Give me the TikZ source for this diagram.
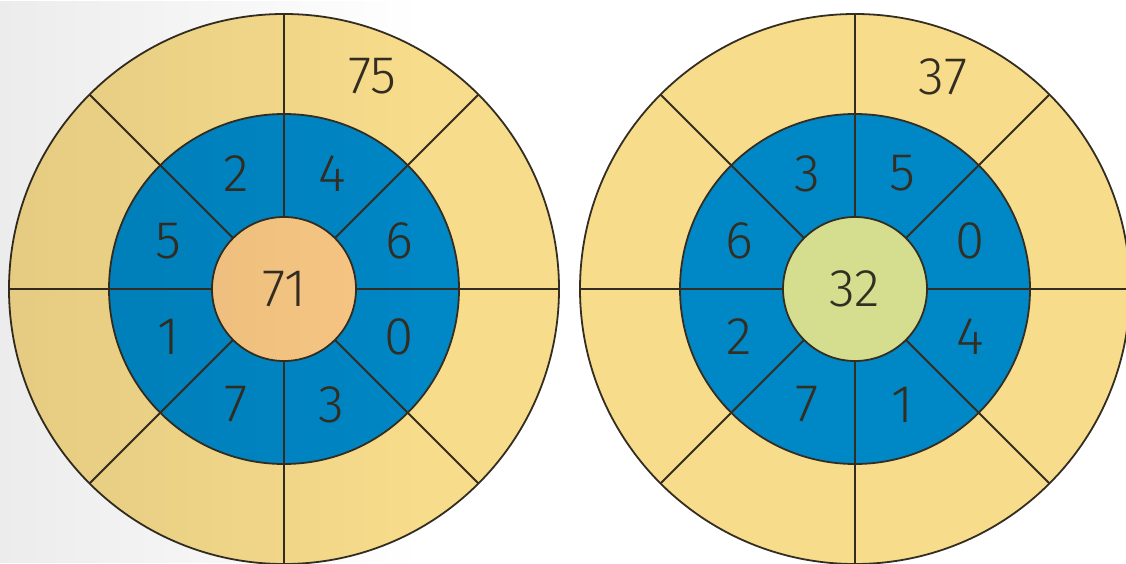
\documentclass[tikz,border=0pt]{standalone}
\usepackage{fontspec}
\setmainfont{Fira Sans Light}
\usetikzlibrary{fadings}
\definecolor{ring}{HTML}{F7DC8C}
\definecolor{blu}{HTML}{0087C5}
\definecolor{org}{HTML}{F8C784}
\definecolor{grn}{HTML}{D4DE8E}
\definecolor{edge}{HTML}{342E22}
\tikzfading[name=fadeR, left color=transparent!0, right color=transparent!100]
\begin{document}
\begin{tikzpicture}[x=1pt,y=1pt,
  disc/.style={circle, draw=edge, line width=1.8pt, inner sep=0pt, outer sep=0pt},
  spoke/.style={draw=edge, line width=1.8pt},
  num/.style={font=\fontsize{53}{53}\selectfont, text=edge, inner sep=0pt}]
\useasboundingbox (0,0) rectangle (1126,563);
\clip (0,0) rectangle (1126,563);
\fill[white] (0,0) rectangle (1126,563);
% left target
\node[disc, fill=ring, minimum size=550pt] (oL) at (284,274) {};
\node[disc, fill=blu, minimum size=350pt] (mL) at (284,274) {};
\node[disc, fill=org, minimum size=144pt] (iL) at (284,274) {};
\foreach \a in {0,45,...,315} \draw[spoke] (iL.\a) -- (oL.\a);
% right target
\node[disc, fill=ring, minimum size=550pt] (oR) at (855,274) {};
\node[disc, fill=blu, minimum size=350pt] (mR) at (855,274) {};
\node[disc, fill=grn, minimum size=144pt] (iR) at (855,274) {};
\foreach \a in {0,45,...,315} \draw[spoke] (iR.\a) -- (oR.\a);
% left labels
\node[num] (cL) at (iL.center) {71};
\node[num] (tL) at ([shift={(67.5:230)}]iL.center) {75};
\node[num] (l1) at ([shift={(112.5:125)}]iL.center) {2};
\node[num] (l2) at ([shift={(67.5:125)}]iL.center) {4};
\node[num] (l3) at ([shift={(22.5:125)}]iL.center) {6};
\node[num] (l4) at ([shift={(-22.5:125)}]iL.center) {0};
\node[num] (l5) at ([shift={(-67.5:125)}]iL.center) {3};
\node[num] (l6) at ([shift={(-112.5:125)}]iL.center) {7};
\node[num] (l7) at ([shift={(-157.5:125)}]iL.center) {1};
\node[num] (l8) at ([shift={(157.5:125)}]iL.center) {5};
% right labels
\node[num] (cR) at (iR.center) {32};
\node[num] (tR) at ([shift={(67.5:230)}]iR.center) {37};
\node[num] (r1) at ([shift={(112.5:125)}]iR.center) {3};
\node[num] (r2) at ([shift={(67.5:125)}]iR.center) {5};
\node[num] (r3) at ([shift={(22.5:125)}]iR.center) {0};
\node[num] (r4) at ([shift={(-22.5:125)}]iR.center) {4};
\node[num] (r5) at ([shift={(-67.5:125)}]iR.center) {1};
\node[num] (r6) at ([shift={(-112.5:125)}]iR.center) {7};
\node[num] (r7) at ([shift={(-157.5:125)}]iR.center) {2};
\node[num] (r8) at ([shift={(157.5:125)}]iR.center) {6};
% soft shadow on the left edge
\fill[black, fill opacity=0.075, path fading=fadeR] (0,0) rectangle (420,563);
\end{tikzpicture}
\end{document}
